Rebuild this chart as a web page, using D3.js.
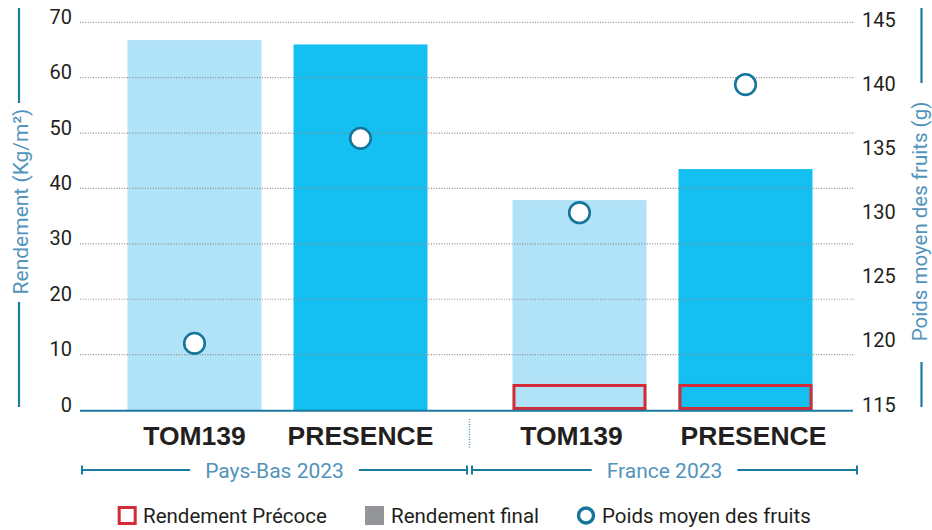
<!DOCTYPE html>
<html><head><meta charset="utf-8">
<script src="https://cdn.jsdelivr.net/npm/d3@7"></script>
<style>
html,body{margin:0;padding:0;background:#fff;}
svg{display:block;font-family:Roboto,"Noto Sans",sans-serif;}
</style></head>
<body><svg id="c" width="932" height="530"></svg>
<script>
// ---- data ----
const groups = ["Pays-Bas 2023", "France 2023"];
const varieties = ["TOM139", "PRESENCE"];
const finalYieldPB = [66.8, 66.0];
const finalYieldFR = [37.9, 43.5];
const earlyYieldPB = [null, null];
const earlyYieldFR = [4.7, 4.7];
const fruitWeightPB = [120.2, 136.2];
const fruitWeightFR = [130.4, 140.4];
const yTicks = [0, 10, 20, 30, 40, 50, 60, 70];
const y2Ticks = [115, 120, 125, 130, 135, 140, 145];
const legendLabels = ["Rendement Précoce", "Rendement final", "Poids moyen des fruits"];
const yTitle = "Rendement (Kg/m²)";
const y2Title = "Poids moyen des fruits (g)";

const finals = [finalYieldPB, finalYieldFR];
const earlies = [earlyYieldPB, earlyYieldFR];
const weights = [fruitWeightPB, fruitWeightFR];
const rows = [];
groups.forEach((g, gi) => varieties.forEach((v, vi) => rows.push({
  g, gi, v, vi, final: finals[gi][vi], early: earlies[gi][vi], weight: weights[gi][vi]
})));

// ---- layout ----
const svg = d3.select("#c");
const x0 = d3.scaleBand().domain(groups).range([85, 855]);
const x1 = d3.scaleBand().domain(varieties).range([0, x0.bandwidth()]).paddingInner(0.1928).paddingOuter(0.256);
const y = d3.scaleLinear().domain([0, 70]).range([410, 22.3]);
const y2 = d3.scaleLinear().domain([115, 145]).range([410, 25.6]);
const barColor = d3.scaleOrdinal().domain(varieties).range(["#b1e3f8", "#13c0f1"]);
const teal = "#1a7aa0", titleCol = "#5294bb", red = "#d42b36", txt = "#231f20";

// bars
svg.append("g").selectAll("rect").data(rows).join("rect")
  .attr("x", d => x0(d.g) + x1(d.v)).attr("width", x1.bandwidth())
  .attr("y", d => y(d.final)).attr("height", d => y(0) - y(d.final))
  .attr("fill", d => barColor(d.v));

// gridlines (over bars)
svg.append("g").selectAll("line").data(yTicks.filter(t => t > 0)).join("line")
  .attr("x1", 80).attr("x2", 855).attr("y1", d => y(d)).attr("y2", d => y(d))
  .attr("stroke", "#8c8c8c").attr("stroke-width", 1.2).attr("stroke-dasharray", "1,1.6");

// early yield boxes
svg.append("g").selectAll("rect").data(rows.filter(d => d.early != null)).join("rect")
  .attr("x", d => x0(d.g) + x1(d.v) + 1.5).attr("width", x1.bandwidth() - 3)
  .attr("y", d => y(d.early) + 1.5).attr("height", d => y(0) - y(d.early) - 3)
  .attr("fill", "none").attr("stroke", red).attr("stroke-width", 3);

// baseline
svg.append("line").attr("x1", 80).attr("x2", 853).attr("y1", y(0) + 0.7).attr("y2", y(0) + 0.7)
  .attr("stroke", teal).attr("stroke-width", 2);

// circles
svg.append("g").selectAll("circle").data(rows).join("circle")
  .attr("cx", d => x0(d.g) + x1(d.v) + x1.bandwidth() / 2).attr("cy", d => y2(d.weight))
  .attr("r", 10.3).attr("fill", "#fff").attr("stroke", "#16759b").attr("stroke-width", 2.6);

// left axis
const yAx = svg.append("g").attr("transform", "translate(72,0)")
  .call(d3.axisLeft(y).tickValues(yTicks).tickSize(0).tickPadding(0));
yAx.select(".domain").remove();
yAx.selectAll("text").attr("font-size", 20).attr("fill", txt).attr("dy", null).attr("y", 1);
yAx.attr("font-family", null);

// right axis
const y2Ax = svg.append("g").attr("transform", "translate(862,0)")
  .call(d3.axisRight(y2).tickValues(y2Ticks).tickSize(0).tickPadding(0));
y2Ax.select(".domain").remove();
y2Ax.selectAll("text").attr("font-size", 20).attr("fill", txt).attr("dy", null).attr("y", 1);
y2Ax.attr("font-family", null);

// axis titles with lines
svg.append("line").attr("x1", 19).attr("x2", 19).attr("y1", 8).attr("y2", 103).attr("stroke", teal).attr("stroke-width", 2.2);
svg.append("line").attr("x1", 19).attr("x2", 19).attr("y1", 302).attr("y2", 407).attr("stroke", teal).attr("stroke-width", 2.2);
svg.append("text").attr("transform", "translate(27.5,201.5) rotate(-90)").attr("text-anchor", "middle")
  .attr("font-size", 21).attr("fill", titleCol).text(yTitle);
svg.append("line").attr("x1", 921.5).attr("x2", 921.5).attr("y1", 8).attr("y2", 83).attr("stroke", teal).attr("stroke-width", 2.2);
svg.append("line").attr("x1", 921.5).attr("x2", 921.5).attr("y1", 362).attr("y2", 407).attr("stroke", teal).attr("stroke-width", 2.2);
svg.append("text").attr("transform", "translate(926.5,221.5) rotate(-90)").attr("text-anchor", "middle")
  .attr("font-size", 20.5).attr("fill", titleCol).text(y2Title);

// category labels
svg.append("g").selectAll("text").data(rows).join("text")
  .attr("x", d => x0(d.g) + x1(d.v) + x1.bandwidth() / 2 + (d.gi === 1 ? (d.vi === 0 ? -8 : 8) : 0))
  .attr("y", 445).attr("text-anchor", "middle").attr("font-size", 26.5).attr("font-weight", 700)
  .attr("font-family", "'Liberation Sans', Arial, sans-serif")
  .attr("fill", txt).text(d => d.v);

// separator
svg.append("line").attr("x1", x0(groups[1]) - 0.5).attr("x2", x0(groups[1]) - 0.5).attr("y1", 419).attr("y2", 448)
  .attr("stroke", titleCol).attr("stroke-width", 1.5).attr("stroke-dasharray", "1,1.5");

// group brackets
groups.forEach((g, i) => {
  const s = x0(g) + (i ? 2 : -3), e = s + x0.step();
  const c = (s + e) / 2, by = 470;
  const t = svg.append("text").attr("x", c).attr("y", by + 7.5).attr("text-anchor", "middle")
    .attr("font-size", 21).attr("fill", titleCol).text(g);
  const w = t.node().getComputedTextLength();
  const gb = svg.append("g").attr("stroke", teal).attr("stroke-width", 2);
  gb.append("line").attr("x1", s).attr("x2", c - w / 2 - 15).attr("y1", by).attr("y2", by);
  gb.append("line").attr("x1", c + w / 2 + 15).attr("x2", e).attr("y1", by).attr("y2", by);
  gb.append("line").attr("x1", s).attr("x2", s).attr("y1", by - 4.5).attr("y2", by + 4.5);
  gb.append("line").attr("x1", e).attr("x2", e).attr("y1", by - 4.5).attr("y2", by + 4.5);
});

// legend
const lg = svg.append("g");
lg.append("rect").attr("x", 119.2).attr("y", 507.5).attr("width", 16).attr("height", 16)
  .attr("fill", "none").attr("stroke", red).attr("stroke-width", 3);
lg.append("rect").attr("x", 365).attr("y", 506).attr("width", 19).attr("height", 19).attr("fill", "#939598");
lg.append("circle").attr("cx", 586).attr("cy", 515.5).attr("r", 7.5).attr("fill", "none")
  .attr("stroke", "#16759b").attr("stroke-width", 3.4);
const lx = [143, 391, 602];
lg.selectAll("text").data(legendLabels).join("text")
  .attr("x", (d, i) => lx[i]).attr("y", 522.5).attr("font-size", 20.5).attr("fill", txt).text(d => d);
</script></body></html>
